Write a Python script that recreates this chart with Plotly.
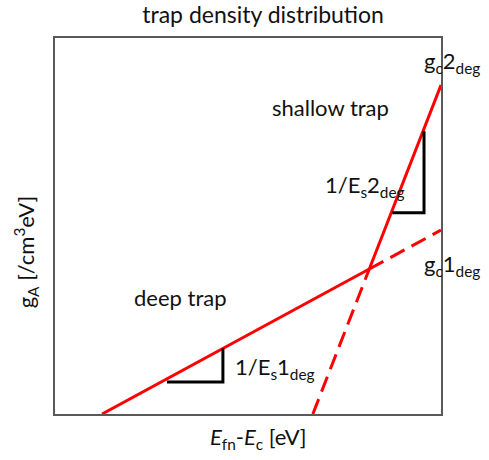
import plotly.graph_objects as go

# Line endpoints in axis units (axis spans 0..10 both ways)
deep_x_solid = [1.22, 8.143]
deep_y_solid = [0.0, 3.856]
deep_x_dash = [8.143, 10.0]
deep_y_dash = [3.856, 4.89]

shallow_x_solid = [8.143, 10.0]
shallow_y_solid = [3.856, 8.75]
shallow_x_dash = [6.68, 8.143]
shallow_y_dash = [0.0, 3.856]

tri1_x = [2.90, 4.35, 4.35]
tri1_y = [0.851, 0.851, 1.743]
tri2_x = [8.74, 9.56, 9.56]
tri2_y = [5.35, 5.35, 7.52]

labels = ["shallow trap", "1/E<sub>s</sub>2<sub>deg</sub>", "deep trap", "1/E<sub>s</sub>1<sub>deg</sub>"]
label_x = [7.15, 8.03, 3.26, 5.70]
label_y = [8.16, 6.06, 3.09, 1.22]

edge_labels = ["g<sub>c</sub>2<sub>deg</sub>", "g<sub>c</sub>1<sub>deg</sub>"]
edge_x = [1.028, 1.028]
edge_y = [0.936, 0.397]

FONT = "Lato, 'Noto Sans', sans-serif"
RED = "#ff0000"
TXT = "#111111"

fig = go.Figure()
fig.add_trace(go.Scatter(x=deep_x_solid, y=deep_y_solid, mode="lines",
                         line=dict(color=RED, width=3), showlegend=False))
fig.add_trace(go.Scatter(x=deep_x_dash, y=deep_y_dash, mode="lines",
                         line=dict(color=RED, width=3, dash="16px,8px"), showlegend=False))
fig.add_trace(go.Scatter(x=shallow_x_solid, y=shallow_y_solid, mode="lines",
                         line=dict(color=RED, width=3), showlegend=False))
fig.add_trace(go.Scatter(x=shallow_x_dash, y=shallow_y_dash, mode="lines",
                         line=dict(color=RED, width=3, dash="16px,8px"), showlegend=False))
fig.add_trace(go.Scatter(x=tri1_x, y=tri1_y, mode="lines",
                         line=dict(color="black", width=3), showlegend=False))
fig.add_trace(go.Scatter(x=tri2_x, y=tri2_y, mode="lines",
                         line=dict(color="black", width=3), showlegend=False))

for t, x, y in zip(labels, label_x, label_y):
    fig.add_annotation(x=x, y=y, xref="x", yref="y", text=t, showarrow=False,
                       font=dict(family=FONT, size=22, color=TXT),
                       xanchor="center", yanchor="middle")

for t, x, y in zip(edge_labels, edge_x, edge_y):
    fig.add_annotation(x=x, y=y, xref="paper", yref="paper", text=t, showarrow=False,
                       font=dict(family=FONT, size=22, color=TXT),
                       xanchor="center", yanchor="middle")

# axis titles
fig.add_annotation(x=0.528, y=-0.065, xref="paper", yref="paper",
                   text="<i>E</i><sub>fn</sub>-<i>E</i><sub>c</sub> [eV]", showarrow=False,
                   font=dict(family=FONT, size=22, color=TXT),
                   xanchor="center", yanchor="middle")
fig.add_annotation(x=-0.075, y=0.43, xref="paper", yref="paper",
                   text="g<sub>A</sub> [/cm<sup>3</sup>eV]", showarrow=False, textangle=-90,
                   font=dict(family=FONT, size=22, color=TXT),
                   xanchor="center", yanchor="middle")

axis_common = dict(range=[0, 10], showgrid=False, zeroline=False, showticklabels=False,
                   ticks="", showline=True, linecolor="#595959", linewidth=2, mirror=True,
                   fixedrange=True)
fig.update_layout(
    width=489, height=460,
    margin=dict(l=55, r=48, t=38, b=46),
    paper_bgcolor="white", plot_bgcolor="white",
    xaxis=axis_common, yaxis=axis_common,
    title=dict(text="trap density distribution", x=0.538, xanchor="center", y=0.967,
               yanchor="middle", font=dict(family=FONT, size=23, color=TXT)),
)
fig.write_html("out.html")
